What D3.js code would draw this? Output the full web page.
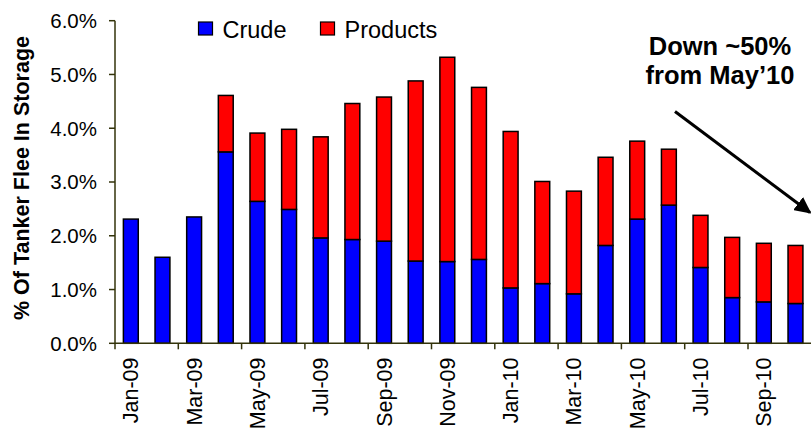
<!DOCTYPE html>
<html>
<head>
<meta charset="utf-8">
<script src="https://cdn.jsdelivr.net/npm/d3@7"></script>
<style>
  html, body { margin: 0; padding: 0; background: #fff; }
  svg { display: block; font-family: "Liberation Sans", Arial, sans-serif; }
</style>
</head>
<body>
<svg id="chart" width="811" height="430"></svg>
<script>
const months = ["Jan-09","Feb-09","Mar-09","Apr-09","May-09","Jun-09","Jul-09","Aug-09","Sep-09","Oct-09","Nov-09","Dec-09",
                "Jan-10","Feb-10","Mar-10","Apr-10","May-10","Jun-10","Jul-10","Aug-10","Sep-10","Oct-10"];
const crude    = [2.31,1.60,2.35,3.56,2.64,2.49,1.96,1.93,1.90,1.53,1.52,1.56,1.03,1.11,0.92,1.82,2.31,2.57,1.41,0.85,0.77,0.74];
const products = [0.00,0.00,0.00,1.05,1.27,1.49,1.88,2.53,2.68,3.35,3.80,3.20,2.91,1.90,1.91,1.64,1.45,1.04,0.97,1.12,1.09,1.08];
const seriesNames = ["Crude","Products"];
const yTicks = [0,1,2,3,4,5,6];
const annotationLines = ["Down ~50%","from May\u201910"];

(function () {
const colors = {Crude: "#0000ff", Products: "#ff0000"};
const axisColor = "#33330a";

const svg = d3.select("#chart");
const pLeft = 115, pRight = 811.3, pTop = 20.7, pBottom = 343.3;

const x = d3.scaleBand().domain(months).range([pLeft, pRight]).paddingInner(0.53).paddingOuter(0.265);
const y = d3.scaleLinear().domain([0, 6]).range([pBottom, pTop]);

const rows = months.map((m, i) => ({month: m, Crude: crude[i], Products: products[i]}));
const stack = d3.stack().keys(seriesNames)(rows);

// bars
const g = svg.append("g");
stack.forEach(layer => {
  g.selectAll(null).data(layer).enter().append("rect")
    .attr("x", d => x(d.data.month))
    .attr("width", x.bandwidth())
    .attr("y", d => y(d[1]))
    .attr("height", d => Math.max(0, y(d[0]) - y(d[1])))
    .attr("fill", colors[layer.key])
    .attr("stroke", "#000")
    .attr("stroke-width", 1.5)
    .style("display", d => (d[1] - d[0]) > 0 ? null : "none");
});

// y axis
svg.append("line").attr("x1", pLeft).attr("x2", pLeft).attr("y1", pTop).attr("y2", pBottom)
  .attr("stroke", axisColor).attr("stroke-width", 1.5);
const yt = svg.append("g");
yTicks.forEach(t => {
  yt.append("line").attr("x1", pLeft - 6).attr("x2", pLeft).attr("y1", y(t)).attr("y2", y(t))
    .attr("stroke", axisColor).attr("stroke-width", 1.5);
  yt.append("text").attr("x", 97).attr("y", y(t)).attr("dy", "0.36em")
    .attr("text-anchor", "end").attr("font-size", 20.5).attr("fill", "#000")
    .text(d3.format(".1f")(t) + "%");
});

// x axis
svg.append("line").attr("x1", pLeft).attr("x2", 811).attr("y1", pBottom).attr("y2", pBottom)
  .attr("stroke", axisColor).attr("stroke-width", 1.5);
const step = x.step();
const xt = svg.append("g");
months.forEach((m, i) => {
  if (i % 2 === 0) {
    const bx = x(m) + x.bandwidth() / 2 - step / 2;
    xt.append("line").attr("x1", bx).attr("x2", bx).attr("y1", pBottom).attr("y2", pBottom + 6)
      .attr("stroke", axisColor).attr("stroke-width", 1.5);
    const cx = x(m) + x.bandwidth() / 2;
    xt.append("text")
      .attr("transform", `translate(${cx + 7.5},357.5) rotate(-90)`)
      .attr("text-anchor", "end").attr("font-size", 21.5).attr("fill", "#000")
      .text(m);
  }
});

// y title
svg.append("text")
  .attr("transform", `translate(28.5,178) rotate(-90)`)
  .attr("text-anchor", "middle").attr("font-size", 21.5).attr("font-weight", "bold")
  .text("% Of Tanker Flee In Storage");

// legend
const legendX = [198.5, 320.5];
seriesNames.forEach((s, i) => {
  svg.append("rect").attr("x", legendX[i]).attr("y", 22).attr("width", 14).attr("height", 13)
    .attr("fill", colors[s]).attr("stroke", "#000").attr("stroke-width", 1.2);
  svg.append("text").attr("x", legendX[i] + 24).attr("y", 37.5)
    .attr("font-size", 23.5).attr("fill", "#000").text(s);
});

// annotation
annotationLines.forEach((t, i) => {
  svg.append("text").attr("x", 720).attr("y", 55 + i * 28.5)
    .attr("text-anchor", "middle").attr("font-size", 25.5).attr("font-weight", "bold")
    .text(t);
});
svg.append("defs").append("marker").attr("id", "arrow")
  .attr("viewBox", "0 0 10 10").attr("refX", 9).attr("refY", 5)
  .attr("markerWidth", 5.5).attr("markerHeight", 5.5).attr("orient", "auto")
  .append("path").attr("d", "M0,0 L10,5 L0,10 z").attr("fill", "#000");
svg.append("line").attr("x1", 675).attr("y1", 111.5).attr("x2", 810).attr("y2", 212.5)
  .attr("stroke", "#000").attr("stroke-width", 3).attr("marker-end", "url(#arrow)");
})();
</script>
</body>
</html>
